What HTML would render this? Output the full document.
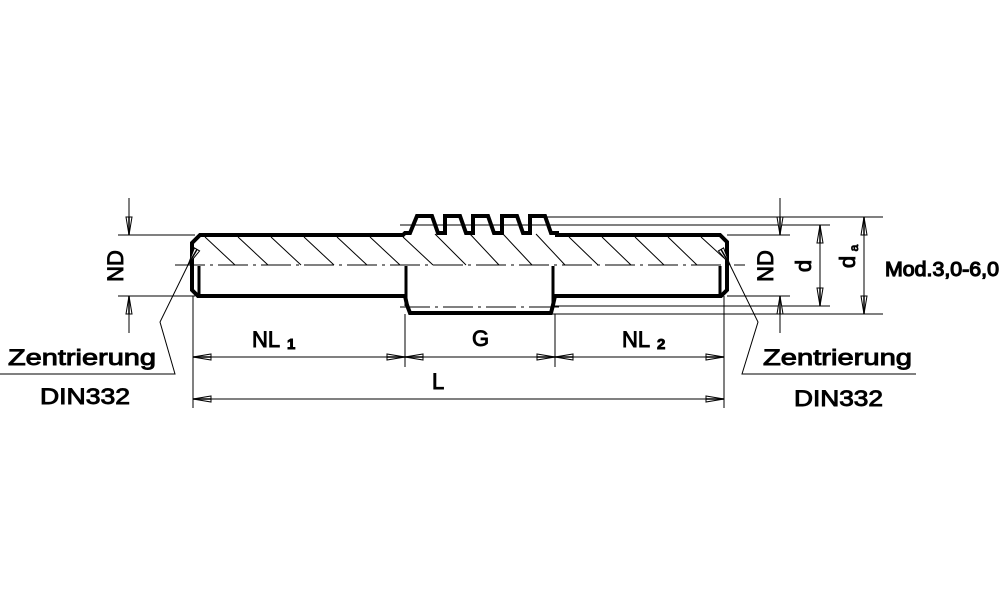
<!DOCTYPE html>
<html><head><meta charset="utf-8"><style>
html,body{margin:0;padding:0;background:#fff;}
svg{display:block;}
text{font-family:"Liberation Sans",sans-serif;fill:#000;stroke:#000;stroke-width:0.9;}
</style></head><body>
<svg width="1000" height="611" viewBox="0 0 1000 611" xmlns="http://www.w3.org/2000/svg">
<defs>
<g id="ah"><polygon points="0,0 -18,-3 -18,3" fill="#fff" stroke="#000" stroke-width="1"/><line x1="-18" y1="0" x2="0" y2="0" stroke="#000" stroke-width="1.5"/></g>
</defs>
<g fill="none" stroke="#000">
<g stroke-width="1">
<line x1="205" y1="237" x2="235" y2="265"/>
<line x1="238" y1="237" x2="268" y2="265"/>
<line x1="271" y1="237" x2="301" y2="265"/>
<line x1="304" y1="237" x2="334" y2="265"/>
<line x1="337" y1="237" x2="367" y2="265"/>
<line x1="370" y1="237" x2="400" y2="265"/>
<line x1="403" y1="237" x2="433" y2="265"/>
<line x1="435" y1="234" x2="466" y2="265"/>
<line x1="470" y1="234" x2="499" y2="265"/>
<line x1="503" y1="234" x2="532" y2="265"/>
<line x1="536" y1="234" x2="565" y2="265"/>
<line x1="569" y1="237" x2="598" y2="265"/>
<line x1="602" y1="237" x2="631" y2="265"/>
<line x1="635" y1="237" x2="664" y2="265"/>
<line x1="668" y1="237" x2="697" y2="265"/>
<line x1="701" y1="237" x2="724" y2="258"/>
</g>
<line x1="175" y1="265" x2="745" y2="265" stroke-width="1" stroke-dasharray="30,5,3,5"/>
<line x1="400" y1="307" x2="560" y2="307" stroke-width="1" stroke-dasharray="30,5,3,5"/>
<path d="M200,235 L403,235 L405,233 L410,233 L417,216 L432,216 L438,233 L445,233 L445,216 L460,216 L466,233 L473,233 L473,216 L488,216 L494,233 L502,233 L502,216 L517,216 L523,233 L530,233 L530,216 L545,216 L551,233 L557,233 L557,235 L720,235 L727,242 L727,290 L721,296 L555,296 L553,305 L551,313 L410,313 L407,305 L405,296 L198,296 L192,290 L192,243 Z" stroke-width="4" stroke-linejoin="miter"/>
<g stroke-width="3">
<line x1="199" y1="266" x2="199" y2="296"/>
<line x1="406" y1="266" x2="406" y2="306"/>
<line x1="553" y1="266" x2="553" y2="306"/>
<line x1="720" y1="266" x2="720" y2="296"/>
</g>
<g stroke-width="1">
<line x1="400" y1="225" x2="830" y2="225"/>
<line x1="545" y1="217" x2="883" y2="217"/>
<line x1="118" y1="235" x2="195" y2="235"/>
<line x1="118" y1="296" x2="195" y2="296"/>
<line x1="727" y1="235" x2="790" y2="235"/>
<line x1="727" y1="296" x2="790" y2="296"/>
<line x1="553" y1="306" x2="830" y2="306"/>
<line x1="553" y1="314" x2="883" y2="314"/>
<line x1="129" y1="198" x2="129" y2="235"/>
<line x1="129" y1="296" x2="129" y2="333"/>
<line x1="780" y1="198" x2="780" y2="235"/>
<line x1="780" y1="296" x2="780" y2="333"/>
<line x1="820" y1="225" x2="820" y2="306"/>
<line x1="864" y1="217" x2="864" y2="314"/>
<line x1="193" y1="296" x2="193" y2="408"/>
<line x1="405" y1="314" x2="405" y2="367"/>
<line x1="555" y1="314" x2="555" y2="367"/>
<line x1="724" y1="296" x2="724" y2="408"/>
<line x1="193" y1="357" x2="724" y2="357"/>
<line x1="193" y1="399" x2="724" y2="399"/>
<polyline points="0,374 175,374 160,322 188,265"/>
<polyline points="916,374 742,374 758,322 730,265"/>
</g>
</g>
<use href="#ah" transform="translate(129,235) rotate(90)"/>
<use href="#ah" transform="translate(129,296) rotate(-90)"/>
<use href="#ah" transform="translate(780,235) rotate(90)"/>
<use href="#ah" transform="translate(780,296) rotate(-90)"/>
<use href="#ah" transform="translate(820,225) rotate(-90)"/>
<use href="#ah" transform="translate(820,306) rotate(90)"/>
<use href="#ah" transform="translate(864,217) rotate(-90)"/>
<use href="#ah" transform="translate(864,314) rotate(90)"/>
<use href="#ah" transform="translate(193,357) rotate(180)"/>
<use href="#ah" transform="translate(405,357)"/>
<use href="#ah" transform="translate(405,357) rotate(180)"/>
<use href="#ah" transform="translate(555,357)"/>
<use href="#ah" transform="translate(555,357) rotate(180)"/>
<use href="#ah" transform="translate(724,357)"/>
<use href="#ah" transform="translate(193,399) rotate(180)"/>
<use href="#ah" transform="translate(724,399)"/>
<use href="#ah" transform="translate(188,265) rotate(120)"/>
<use href="#ah" transform="translate(730,265) rotate(60)"/>
<text transform="translate(123,266) rotate(-90)" font-size="22" text-anchor="middle">ND</text>
<text transform="translate(773,266) rotate(-90)" font-size="22" text-anchor="middle">ND</text>
<text transform="translate(811,266) rotate(-90)" font-size="22" text-anchor="middle">d</text>
<text transform="translate(855,262) rotate(-90)" font-size="22" text-anchor="middle">d</text>
<text transform="translate(858,248) rotate(-90)" font-size="12" text-anchor="middle">a</text>
<text x="885" y="276" font-size="20" textLength="114" lengthAdjust="spacingAndGlyphs" style="stroke-width:1.2">Mod.3,0-6,0</text>
<text x="252" y="347" font-size="22">NL</text><text x="287" y="349" font-size="15" font-weight="bold">1</text>
<text x="472" y="346" font-size="22">G</text>
<text x="622" y="347" font-size="22">NL</text><text x="657" y="349" font-size="15" font-weight="bold">2</text>
<text x="432" y="389" font-size="22">L</text>
<text x="8" y="365" font-size="22" textLength="148" lengthAdjust="spacingAndGlyphs">Zentrierung</text>
<text x="40" y="404" font-size="22" textLength="90" lengthAdjust="spacingAndGlyphs">DIN332</text>
<text x="763" y="365" font-size="22" textLength="149" lengthAdjust="spacingAndGlyphs">Zentrierung</text>
<text x="794" y="406" font-size="22" textLength="89" lengthAdjust="spacingAndGlyphs">DIN332</text>
</svg>
</body></html>
